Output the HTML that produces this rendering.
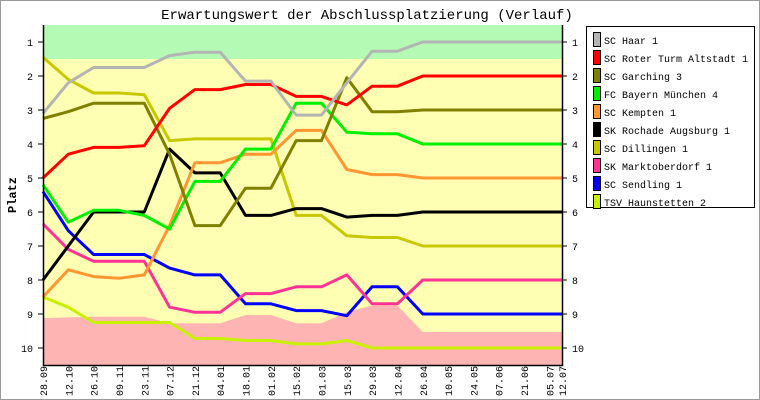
<!DOCTYPE html>
<html><head><meta charset="utf-8"><style>
body{margin:0;background:#fff}
svg{display:block}
text{font-family:"Liberation Mono","DejaVu Sans Mono",monospace;fill:#000}
</style></head><body>
<svg id="s" width="760" height="400" xmlns="http://www.w3.org/2000/svg">
<rect x="0.5" y="0.5" width="759" height="399" fill="#fff" stroke="#999" stroke-width="1"/>
<text x="367" y="19" font-size="14" text-anchor="middle">Erwartungswert der Abschlussplatzierung (Verlauf)</text>
<text transform="translate(16,195) rotate(-90)" font-size="12" font-weight="bold" text-anchor="middle">Platz</text>
<g id="g"></g>
</svg>
<script>
const g=document.getElementById('g');
const X=i=>43+519*i/41;
const Y=r=>8+34*r;
let h='';
h+=`<rect x="43" y="25" width="519" height="340" fill="#ffffb4"/>`;
h+=`<rect x="43" y="25" width="519" height="${Y(1.5)-25}" fill="#b4fab4"/>`;
const pinkTop=[9.12,9.1,9.08,9.08,9.08,9.27,9.27,9.27,9.03,9.03,9.27,9.27,8.95,8.75,8.75,9.53];
let p=`43,365 `;
pinkTop.forEach((r,i)=>p+=`${X(2*i).toFixed(1)},${Y(r).toFixed(1)} `);
p+=`562,${Y(9.53)} 562,365`;
h+=`<polygon points="${p}" fill="#ffb4b4"/>`;
const S=[
["SC Haar 1","#b4b4b4",[3.1,2.2,1.75,1.75,1.75,1.4,1.3,1.3,2.15,2.15,3.15,3.15,2.2,1.27,1.27,1.0]],
["SC Roter Turm Altstadt 1","#ff0000",[5.0,4.3,4.1,4.1,4.05,2.95,2.4,2.4,2.25,2.25,2.6,2.6,2.85,2.3,2.3,2.0]],
["SC Garching 3","#808000",[3.25,3.05,2.8,2.8,2.8,4.3,6.4,6.4,5.3,5.3,3.9,3.9,2.05,3.05,3.05,3.0]],
["FC Bayern München 4","#00f000",[5.2,6.3,5.95,5.95,6.1,6.5,5.1,5.1,4.15,4.15,2.8,2.8,3.65,3.7,3.7,4.0]],
["SC Kempten 1","#ff9632",[8.5,7.7,7.9,7.95,7.85,6.4,4.55,4.55,4.3,4.3,3.6,3.6,4.75,4.9,4.9,5.0]],
["SK Rochade Augsburg 1","#000000",[8.0,7.0,6.0,6.0,6.0,4.15,4.85,4.85,6.1,6.1,5.9,5.9,6.15,6.1,6.1,6.0]],
["SC Dillingen 1","#c8c800",[1.45,2.1,2.5,2.5,2.55,3.9,3.85,3.85,3.85,3.85,6.1,6.1,6.7,6.75,6.75,7.0]],
["SK Marktoberdorf 1","#ff3296",[6.35,7.1,7.45,7.45,7.45,8.8,8.95,8.95,8.4,8.4,8.2,8.2,7.85,8.7,8.7,8.0]],
["SC Sendling 1","#0000ff",[5.4,6.55,7.25,7.25,7.25,7.65,7.85,7.85,8.7,8.7,8.9,8.9,9.05,8.2,8.2,9.0]],
["TSV Haunstetten 2","#c8f000",[8.5,8.8,9.25,9.25,9.25,9.25,9.72,9.72,9.78,9.78,9.88,9.88,9.78,10.0,10.0,10.0]]
];
S.slice().reverse().forEach(s=>{
 let pts=s[2].map((r,i)=>`${X(2*i).toFixed(1)},${Y(r).toFixed(1)}`).join(' ');
 pts+=` 562,${Y(s[2][15]).toFixed(1)}`;
 h+=`<polyline points="${pts}" fill="none" stroke="${s[1]}" stroke-width="3" stroke-linejoin="round"/>`;
});
h+=`<path d="M43.5,25 V365.5 H562.5 V25" fill="none" stroke="#000" stroke-width="1.5"/>`;
for(let r=1;r<=10;r++){const y=Y(r);
 h+=`<line x1="38" x2="43" y1="${y}" y2="${y}" stroke="#000"/><line x1="562" x2="567" y1="${y}" y2="${y}" stroke="#000"/>`;
 h+=`<text x="33" y="${y+4}" font-size="10" text-anchor="end">${r}</text><text x="572" y="${y+4}" font-size="10">${r}</text>`;}
const L=["28.09","12.10","26.10","09.11","23.11","07.12","21.12","04.01","18.01","01.02","15.02","01.03","15.03","29.03","12.04","26.04","10.05","24.05","07.06","21.06","05.07"];
L.forEach((l,i)=>{const x=X(2*i);h+=`<text transform="translate(${x+4},396) rotate(-90)" font-size="10">${l}</text>`;});
h+=`<text transform="translate(${562+4},396) rotate(-90)" font-size="10">12.07</text>`;
h+=`<rect x="586.5" y="26.5" width="168" height="181" fill="#fff" stroke="#000"/>`;
S.forEach((s,i)=>{const y=40+18*i;
 h+=`<rect x="593.5" y="${y-7.5}" width="7" height="14" fill="${s[1]}" stroke="#000"/>`;
 h+=`<text x="604" y="${y+4}" font-size="10" textLength="${s[0].length*6}" lengthAdjust="spacingAndGlyphs">${s[0]}</text>`;});
g.innerHTML=h;
</script>
</body></html>
